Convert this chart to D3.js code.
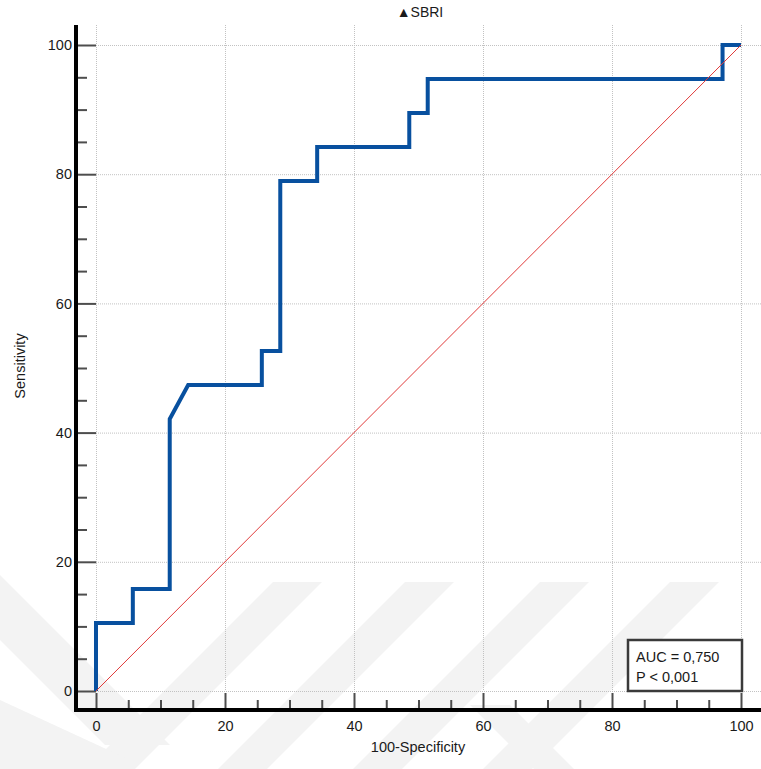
<!DOCTYPE html>
<html>
<head>
<meta charset="utf-8">
<script src="https://cdn.jsdelivr.net/npm/d3@7"></script>
<style>
  html, body { margin: 0; padding: 0; background: #fff; }
  svg { display: block; font-family: "Liberation Sans", Arial, sans-serif; }
</style>
</head>
<body>
<svg id="chart" width="761" height="769"></svg>
<script>
// ROC curve vertices: 100-Specificity (x) and Sensitivity (y), in percent
const fpr = [0, 0, 5.71, 5.71, 11.43, 11.43, 14.29, 25.71, 25.71, 28.57, 28.57,
             34.29, 34.29, 48.57, 48.57, 51.43, 51.43, 97.14, 97.14, 100];
const tpr = [0, 10.53, 10.53, 15.79, 15.79, 42.11, 47.37, 47.37, 52.63, 52.63, 78.95,
             78.95, 84.21, 84.21, 89.47, 89.47, 94.74, 94.74, 100, 100];

// Reference (chance) diagonal
const diagX = [0, 100];
const diagY = [0, 100];

const majorTicks = [0, 20, 40, 60, 80, 100];
const minorTicks = [5, 10, 15, 25, 30, 35, 45, 50, 55, 65, 70, 75, 85, 90, 95];

const titleText = "\u25B2SBRI";
const xLabel = "100-Specificity";
const yLabel = "Sensitivity";
const statLines = ["AUC = 0,750", "P < 0,001"];

const W = 761, H = 769;
const svg = d3.select("#chart");

const x = d3.scaleLinear().domain([0, 100]).range([96, 741]);
const y = d3.scaleLinear().domain([0, 100]).range([691, 45]);

// Faint background watermark bands
const wm = svg.append("g").attr("fill", "#f3f3f3");
const slashTops = [273, 405, 540, 670];
slashTops.forEach(x0 => {
  const top = 582, w = 49, bottom = H;
  const d = bottom - top;
  wm.append("path").attr("d",
    `M${x0},${top}L${x0 + w},${top}L${x0 + w - d},${bottom}L${x0 - d},${bottom}Z`);
});
wm.append("path").attr("d", "M0,575L0,640L105,745L170,745Z");
wm.append("path").attr("d", "M0,700L0,769L130,769L130,760Z");
wm.append("path").attr("d", "M470,705L510,705L574,769L534,769Z");

// Grid lines (dotted)
const grid = svg.append("g")
  .attr("stroke", "#c2c2c2").attr("stroke-width", 1)
  .attr("stroke-dasharray", "1,1").attr("fill", "none");
grid.selectAll("line.h").data(majorTicks).join("line")
  .attr("class", "h")
  .attr("x1", x(0)).attr("x2", W)
  .attr("y1", d => y(d) + 0.5).attr("y2", d => y(d) + 0.5);
grid.selectAll("line.v").data(majorTicks).join("line")
  .attr("class", "v")
  .attr("x1", d => x(d) + 0.5).attr("x2", d => x(d) + 0.5)
  .attr("y1", 25).attr("y2", y(0));

// Axes
function styleAxis(g) {
  g.select(".domain").remove();
  g.selectAll(".tick line").attr("stroke", "#4d4d4d").attr("stroke-width", 2);
  g.selectAll(".tick text").attr("fill", "#1a1a1a").style("font-size", "14.5px");
}

svg.append("g")
  .attr("transform", "translate(96,0)")
  .call(d3.axisLeft(y).tickValues(majorTicks).tickSize(18).tickPadding(6).tickFormat(d3.format("d")))
  .call(styleAxis);
svg.append("g")
  .attr("transform", "translate(78,0)")
  .call(d3.axisLeft(y).tickValues(minorTicks).tickSize(-9).tickFormat(""))
  .call(styleAxis);

svg.append("g")
  .attr("transform", "translate(0,708)")
  .call(d3.axisBottom(x).tickValues(majorTicks).tickSize(-15).tickPadding(13).tickFormat(d3.format("d")))
  .call(styleAxis);
svg.append("g")
  .attr("transform", "translate(0,708)")
  .call(d3.axisBottom(x).tickValues(minorTicks).tickSize(-8).tickFormat(""))
  .call(styleAxis);

// Heavy frame lines (left and bottom)
svg.append("line").attr("x1", 76).attr("x2", 76).attr("y1", 25).attr("y2", 712)
  .attr("stroke", "#000").attr("stroke-width", 4);
svg.append("line").attr("x1", 74).attr("x2", W).attr("y1", 710).attr("y2", 710)
  .attr("stroke", "#000").attr("stroke-width", 4);

const line = d3.line().x(d => x(d[0])).y(d => y(d[1]));

// ROC curve
svg.append("path")
  .datum(fpr.map((v, i) => [v, tpr[i]]))
  .attr("d", line)
  .attr("fill", "none").attr("stroke", "#08509f").attr("stroke-width", 4)
  .attr("stroke-linejoin", "miter");

// Diagonal reference line
svg.append("path")
  .datum(diagX.map((v, i) => [v, diagY[i]]))
  .attr("d", line)
  .attr("fill", "none").attr("stroke", "#e03a3a").attr("stroke-width", 1);

// Statistics box
const box = svg.append("g");
box.append("rect")
  .attr("x", 628).attr("y", 640).attr("width", 114).attr("height", 51)
  .attr("fill", "#fff").attr("stroke", "#3a3a3a").attr("stroke-width", 2.5);
box.selectAll("text").data(statLines).join("text")
  .attr("x", 636).attr("y", (d, i) => 662 + i * 20)
  .attr("fill", "#1a1a1a").style("font-size", "14.5px")
  .text(d => d);

// Title and axis titles
svg.append("text").attr("x", 420).attr("y", 17).attr("text-anchor", "middle")
  .attr("fill", "#1a1a1a").style("font-size", "14px").text(titleText);
svg.append("text").attr("x", 418).attr("y", 752).attr("text-anchor", "middle")
  .attr("fill", "#1a1a1a").style("font-size", "14.5px").text(xLabel);
svg.append("text")
  .attr("transform", "translate(25,366) rotate(-90)")
  .attr("text-anchor", "middle")
  .attr("fill", "#1a1a1a").style("font-size", "14.5px").text(yLabel);
</script>
</body>
</html>
